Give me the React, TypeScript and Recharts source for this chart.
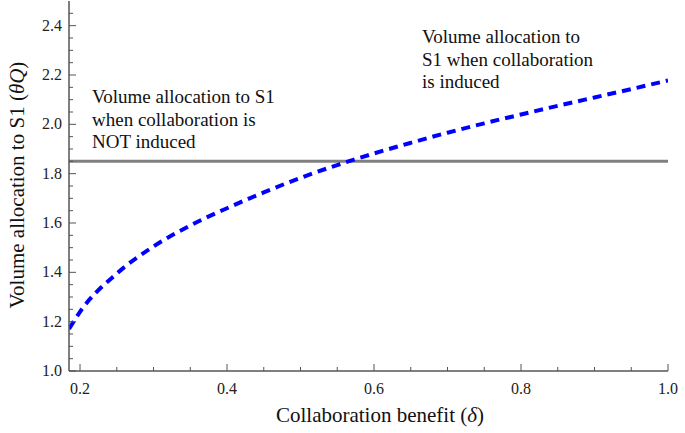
import { LineChart, Line, XAxis, YAxis, ReferenceLine } from "recharts";

const deltaValues = [0.185, 0.2, 0.25, 0.3, 0.35, 0.4, 0.45, 0.5, 0.55, 0.6, 0.65, 0.7, 0.75, 0.8, 0.85, 0.9, 0.95, 1.0];
const thetaQValues = [1.17, 1.24, 1.395, 1.505, 1.59, 1.66, 1.724, 1.783, 1.835, 1.882, 1.925, 1.966, 2.004, 2.04, 2.075, 2.109, 2.143, 2.178];
const notInducedLevel = 1.85;

const xTicks = [0.2, 0.25, 0.3, 0.35, 0.4, 0.45, 0.5, 0.55, 0.6, 0.65, 0.7, 0.75, 0.8, 0.85, 0.9, 0.95, 1.0];
const yTicks = [1.0, 1.05, 1.1, 1.15, 1.2, 1.25, 1.3, 1.35, 1.4, 1.45, 1.5, 1.55, 1.6, 1.65, 1.7, 1.75, 1.8, 1.85, 1.9, 1.95, 2.0, 2.05, 2.1, 2.15, 2.2, 2.25, 2.3, 2.35, 2.4, 2.45];

const data = deltaValues.map((d, i) => ({ delta: d, q: thetaQValues[i] }));

const FONT = '"Times New Roman", "Liberation Serif", Tinos, Times, serif';
const AXIS = "#555";

const isMajor = (v: number) => Math.abs(v * 5 - Math.round(v * 5)) < 1e-6;

function BottomTick({ x, y, payload }: any) {
  const major = isMajor(payload.value);
  return (
    <g>
      <line x1={x} x2={x} y1={y} y2={y - (major ? 7 : 4)} stroke={AXIS} strokeWidth={1} />
      {major && (
        <text x={x} y={y + 23} textAnchor="middle" fontSize={16} style={{ fontFamily: FONT }} fill="#222">
          {payload.value.toFixed(1)}
        </text>
      )}
    </g>
  );
}

function TopTick({ x, y, payload }: any) {
  const major = isMajor(payload.value);
  return <line x1={x} x2={x} y1={y} y2={y + (major ? 7 : 4)} stroke={AXIS} strokeWidth={1} />;
}

function LeftTick({ x, y, payload }: any) {
  const major = isMajor(payload.value);
  return (
    <g>
      <line x1={x} x2={x + (major ? 7 : 4)} y1={y} y2={y} stroke={AXIS} strokeWidth={1} />
      {major && (
        <text x={x - 7} y={y + 5} textAnchor="end" fontSize={16} style={{ fontFamily: FONT }} fill="#222">
          {payload.value.toFixed(1)}
        </text>
      )}
    </g>
  );
}

function RightTick({ x, y, payload }: any) {
  const major = isMajor(payload.value);
  return <line x1={x} x2={x - (major ? 7 : 4)} y1={y} y2={y} stroke={AXIS} strokeWidth={1} />;
}

const note = {
  position: "absolute" as const,
  fontFamily: FONT,
  fontSize: 19,
  lineHeight: "22.5px",
  color: "#111",
  whiteSpace: "pre" as const,
};

export default function App() {
  return (
    <div style={{ position: "absolute", left: 0, top: 0, width: 685, height: 433, background: "#fff", fontFamily: FONT }}>
      <LineChart width={685} height={433} data={data} margin={{ top: 1, right: 17, bottom: 0, left: 0 }}>
        <XAxis
          xAxisId="b"
          dataKey="delta"
          type="number"
          domain={[0.185, 1.0]}
          ticks={xTicks}
          interval={0}
          height={62}
          tickSize={0}
          tickMargin={0}
          tickLine={false}
          tick={<BottomTick />}
          axisLine={{ stroke: AXIS, strokeWidth: 1.5 }}
          allowDataOverflow
        />
        <XAxis
          xAxisId="t"
          orientation="top"
          dataKey="delta"
          type="number"
          domain={[0.185, 1.0]}
          ticks={xTicks}
          interval={0}
          height={0}
          tickSize={0}
          tickMargin={0}
          tickLine={false}
          tick={<TopTick />}
          axisLine={{ stroke: AXIS, strokeWidth: 1.5 }}
          allowDataOverflow
        />
        <YAxis
          yAxisId="l"
          type="number"
          domain={[1.0, 2.5]}
          ticks={yTicks}
          interval={0}
          width={69}
          tickSize={0}
          tickMargin={0}
          tickLine={false}
          tick={<LeftTick />}
          axisLine={{ stroke: AXIS, strokeWidth: 1.5 }}
          allowDataOverflow
        />
        <YAxis
          yAxisId="r"
          orientation="right"
          type="number"
          domain={[1.0, 2.5]}
          ticks={yTicks}
          interval={0}
          width={0}
          tickSize={0}
          tickMargin={0}
          tickLine={false}
          tick={<RightTick />}
          axisLine={{ stroke: AXIS, strokeWidth: 1.5 }}
          allowDataOverflow
        />
        <ReferenceLine xAxisId="b" yAxisId="l" y={notInducedLevel} stroke="#808080" strokeWidth={3} />
        <Line
          xAxisId="b"
          yAxisId="l"
          dataKey="q"
          type="monotone"
          stroke="#0000ff"
          strokeWidth={4}
          strokeDasharray="9 6"
          dot={false}
          isAnimationActive={false}
        />
      </LineChart>
      <div style={{ ...note, left: 92, top: 86 }}>
        {"Volume allocation to S1\nwhen collaboration is\nNOT induced"}
      </div>
      <div style={{ ...note, left: 422, top: 26 }}>
        {"Volume allocation to\nS1 when collaboration\nis induced"}
      </div>
      <div style={{ ...note, fontSize: 21, left: 380, top: 404, transform: "translateX(-50%)" }}>
        Collaboration benefit (<i>δ</i>)
      </div>
      <div
        style={{
          ...note,
          fontSize: 21,
          left: 17,
          top: 185,
          transform: "translate(-50%, -50%) rotate(-90deg)",
        }}
      >
        Volume allocation to S1 (<i>θQ</i>)
      </div>
    </div>
  );
}
